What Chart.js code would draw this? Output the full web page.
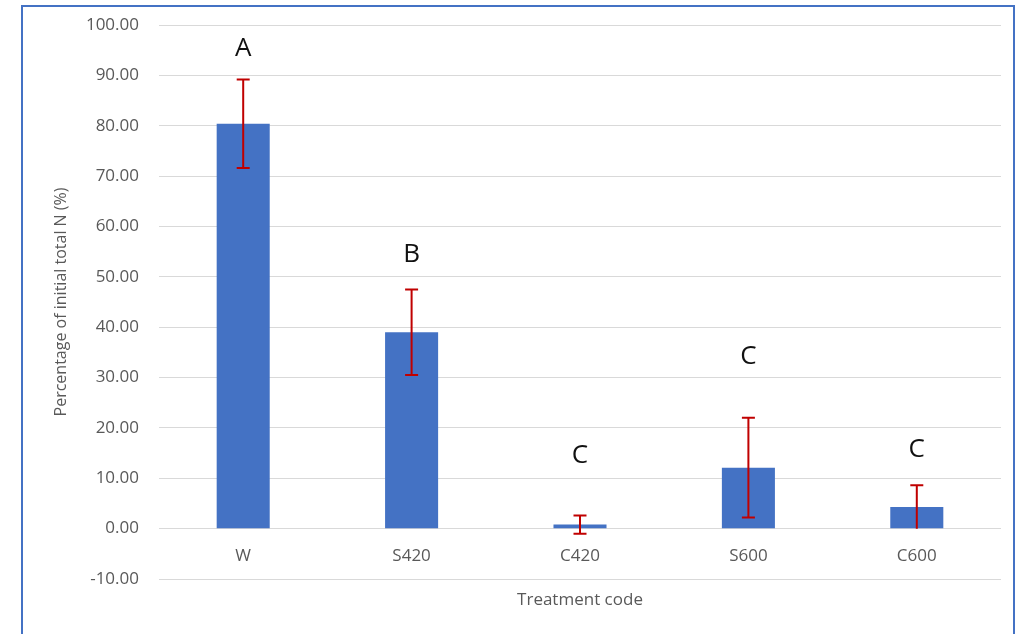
<!DOCTYPE html>
<html>
<head>
<meta charset="utf-8">
<script src="https://cdn.jsdelivr.net/npm/chart.js@4"></script>
<style>
  html, body { margin:0; padding:0; background:#fff; overflow:hidden; }
  #wrap { position:relative; width:1023px; height:634px; }
  #frame { position:absolute; left:21px; top:5px; width:994px; height:700px; border:2px solid #4472C4; box-sizing:border-box; }
  canvas { position:absolute; left:0; top:0; }
</style>
</head>
<body>
<div id="wrap">
  <div id="frame"></div>
  <canvas id="chart" width="1023" height="634"></canvas>
</div>
<script>
// data
var categories = ["W", "S420", "C420", "S600", "C600"];
var means = [80.4, 39.0, 0.8, 12.1, 4.3];
var errors = [8.8, 8.5, 1.8, 9.9, 4.3];
var letters = ["A", "B", "C", "C", "C"];
var letterLevels = [95.4, 54.5, 14.6, 34.2, 15.7];
var yTicks = [-10, 0, 10, 20, 30, 40, 50, 60, 70, 80, 90, 100];

var FONT = "'Open Sans', sans-serif";
var GREY = "#595959";

// error bars + letters
var extras = {
  id: "extras",
  afterDatasetsDraw: function(chart){
    var ctx = chart.ctx, x = chart.scales.x, y = chart.scales.y;
    ctx.save();
    ctx.strokeStyle = "#C00000";
    ctx.lineWidth = 2;
    for (var i = 0; i < means.length; i++) {
      var cx = x.getPixelForValue(i);
      var top = y.getPixelForValue(means[i] + errors[i]);
      var bot = y.getPixelForValue(Math.max(means[i] - errors[i], i == 4 ? 0 : -999));
      ctx.beginPath();
      ctx.moveTo(cx, top); ctx.lineTo(cx, bot);
      ctx.moveTo(cx - 6.5, top); ctx.lineTo(cx + 6.5, top);
      if (means[i] - errors[i] > 0 || i != 4) { ctx.moveTo(cx - 6.5, bot); ctx.lineTo(cx + 6.5, bot); }
      ctx.stroke();
    }
    ctx.fillStyle = "#111";
    ctx.font = "26px " + FONT;
    ctx.textAlign = "center";
    ctx.textBaseline = "middle";
    for (var j = 0; j < letters.length; j++) {
      ctx.fillText(letters[j], x.getPixelForValue(j), y.getPixelForValue(letterLevels[j]));
    }
    // x axis title
    ctx.fillStyle = GREY;
    ctx.font = "17px " + FONT;
    ctx.fillText("Treatment code", (chart.chartArea.left + chart.chartArea.right) / 2, chart.chartArea.bottom + 21);
    ctx.restore();
  }
};

new Chart(document.getElementById("chart"), {
  type: "bar",
  data: {
    labels: categories,
    datasets: [{
      data: means,
      backgroundColor: "#4472C4",
      borderWidth: 0,
      barPercentage: 0.315,
      categoryPercentage: 1
    }]
  },
  options: {
    responsive: false,
    animation: false,
    layout: { padding: { top: 25, right: 22, bottom: 55, left: 0 } },
    plugins: { legend: { display: false }, tooltip: { enabled: false } },
    scales: {
      x: {
        position: { y: 0 },
        afterFit: function(scale){ scale.paddingLeft = 0; scale.paddingRight = 0; },
        grid: { display: false },
        border: { display: false },
        ticks: { color: GREY, font: { family: FONT, size: 17 }, padding: 9 }
      },
      y: {
        min: -10,
        max: 100,
        afterFit: function(scale){ scale.width = 159; scale.paddingTop = 0; scale.paddingBottom = 0; },
        afterBuildTicks: function(scale){ scale.ticks = yTicks.map(function(v){ return { value: v }; }); },
        grid: { color: "#d9d9d9", lineWidth: 1, drawTicks: false },
        border: { display: false },
        ticks: {
          color: GREY,
          font: { family: FONT, size: 17 },
          padding: 20,
          callback: function(v){ return Number(v).toFixed(2); }
        },
        title: {
          display: true,
          text: "Percentage of initial total N (%)",
          color: GREY,
          font: { family: FONT, size: 16 },
          padding: { top: 52, bottom: 0 }
        }
      }
    }
  },
  plugins: [extras]
});
</script>
</body>
</html>
